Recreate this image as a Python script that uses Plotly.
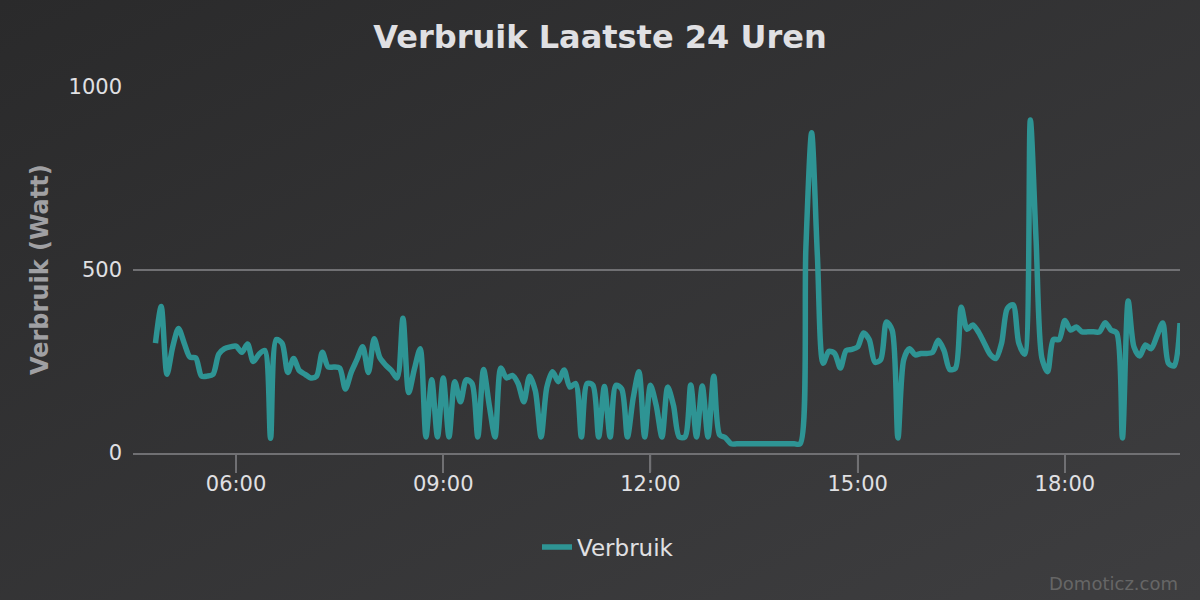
import base64
import pandas as pd
import plotly.graph_objects as go

# ---- data ----
start_time = "2024-01-01 04:50"
interval = "5min"
series_name = "Verbruik"
verbruik = [
    300, 400, 215, 290, 340, 300, 262, 260, 210, 210,
    215, 270, 285, 290, 292, 275, 298, 250, 270, 280,
    40, 310, 300, 220, 258, 225, 215, 205, 210, 275,
    235, 235, 232, 175, 220, 255, 290, 220, 312, 260,
    240, 225, 205, 368, 165, 230, 285, 44, 200, 44,
    205, 44, 195, 140, 200, 190, 44, 228, 130, 44,
    232, 205, 212, 190, 140, 210, 170, 44, 180, 222,
    195, 227, 180, 190, 44, 190, 185, 44, 182, 44,
    185, 175, 44, 150, 222, 44, 185, 130, 44, 180,
    130, 44, 44, 186, 44, 183, 44, 210, 50, 42,
    25, 25, 25, 25, 25, 25, 25, 25, 25, 25,
    25, 25, 25, 560, 875, 540, 245, 278, 272, 232,
    280, 283, 290, 328, 310, 248, 255, 358, 335, 41,
    255, 285, 268, 272, 272, 275, 308, 280, 228, 232,
    398, 338, 350, 330, 300, 270, 258, 300, 395, 405,
    300, 270, 910, 580, 260, 222, 310, 310, 362, 336,
    344, 331, 331, 331, 331, 356, 336, 328, 41, 415,
    290, 265, 295, 285, 320, 355, 245, 238, 355,
]
times = pd.date_range(start=start_time, periods=len(verbruik), freq=interval)
x_tick_times = ["2024-01-01 06:00", "2024-01-01 09:00", "2024-01-01 12:00",
                "2024-01-01 15:00", "2024-01-01 18:00"]
x_tick_labels = ["06:00", "09:00", "12:00", "15:00", "18:00"]
y_ticks = [0, 500, 1000]
title_text = "Verbruik Laatste 24 Uren"
y_title = "Verbruik (Watt)"
credits = "Domoticz.com"

# ---- layout constants ----
W, H = 1200, 600
L, R, T, B = 133, 20, 87, 147
PW, PH = W - L - R, H - T - B

svg = (
    '<svg xmlns="http://www.w3.org/2000/svg" width="1200" height="600" preserveAspectRatio="none">'
    '<defs><linearGradient id="g" x1="0" y1="0" x2="1" y2="1">'
    '<stop offset="0" stop-color="#2a2a2b"/><stop offset="1" stop-color="#3e3e40"/>'
    '</linearGradient></defs><rect width="1200" height="600" fill="url(#g)"/></svg>'
)
bg_uri = "data:image/svg+xml;base64," + base64.b64encode(svg.encode()).decode()

FONT = "DejaVu Sans"
LINE_COLOR = "#2e9494"
GRID = "#707073"

fig = go.Figure()
fig.add_trace(go.Scatter(
    x=times, y=verbruik, mode="lines", name=series_name,
    line=dict(color=LINE_COLOR, width=5.5, shape="spline", smoothing=0.8),
    hoverinfo="skip",
))

# tick marks below the x axis
for t in x_tick_times:
    fig.add_shape(type="line", xref="x", yref="paper", x0=t, x1=t,
                  y0=0, y1=-19 / PH, line=dict(color=GRID, width=1.5),
                  layer="above")

fig.update_layout(
    width=W, height=H,
    margin=dict(l=L, r=R, t=T, b=B),
    paper_bgcolor="#343435",
    plot_bgcolor="rgba(0,0,0,0)",
    images=[dict(
        source=bg_uri, xref="paper", yref="paper",
        x=-L / PW, y=1 + T / PH, sizex=W / PW, sizey=H / PH,
        xanchor="left", yanchor="top", sizing="stretch", layer="below",
    )],
    title=dict(
        text=title_text, x=0.5, xref="container", xanchor="center",
        y=1 - 37 / H, yref="container", yanchor="middle",
        font=dict(family=FONT, size=32, color="#E0E0E3", weight="bold"),
    ),
    showlegend=True,
    legend=dict(
        orientation="h", x=0.5 + 8 / W, xref="container", xanchor="center",
        y=1 - 547 / H, yref="container", yanchor="middle",
        font=dict(family=FONT, size=23, color="#E0E0E3"),
        bgcolor="rgba(0,0,0,0)",
    ),
    xaxis=dict(
        type="date",
        range=["2024-01-01 04:30:30", "2024-01-01 19:40"],
        tickvals=x_tick_times, ticktext=x_tick_labels,
        showgrid=False, zeroline=False,
        showline=True, linecolor=GRID, linewidth=1.5,
        ticks="outside", ticklen=18, tickcolor=GRID, tickwidth=1.5,
        ticklabelstandoff=-7,
        tickfont=dict(family=FONT, size=21, color="#E0E0E3"),
        fixedrange=True,
    ),
    yaxis=dict(
        range=[0, 1000], tickvals=y_ticks,
        showgrid=True, gridcolor=GRID, gridwidth=1.5,
        zeroline=False, showline=False, ticks="",
        ticklabelstandoff=10,
        tickfont=dict(family=FONT, size=21, color="#E0E0E3"),
        fixedrange=True,
    ),
    annotations=[
        dict(
            text=y_title, xref="paper", yref="paper",
            x=(40 - L) / PW, y=0.5, xanchor="center", yanchor="middle",
            textangle=-90, showarrow=False,
            font=dict(family=FONT, size=24, color="#A0A0A3", weight="bold"),
        ),
        dict(
            text=credits, xref="paper", yref="paper",
            x=1.0, y=(453 - 583) / PH, xanchor="right", yanchor="middle",
            showarrow=False,
            font=dict(family=FONT, size=18, color="#666666"),
        ),
    ],
)

fig.write_html(
    "out.html",
    config={"displayModeBar": False},
    post_script="document.body.style.margin='0';document.body.style.overflow='hidden';",
)
